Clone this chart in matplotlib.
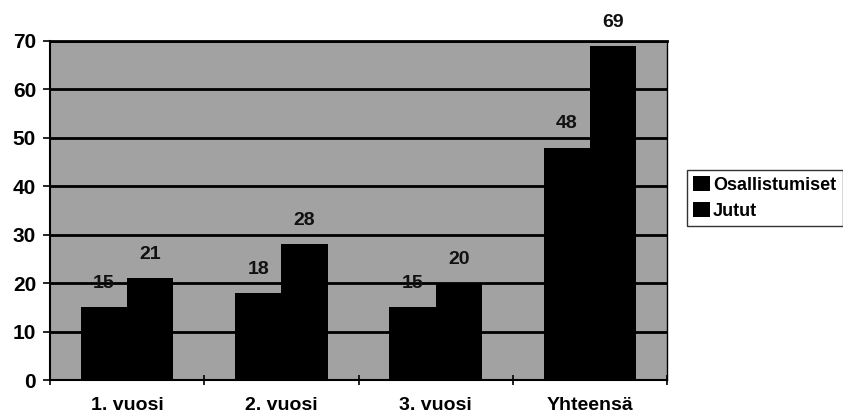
import matplotlib
matplotlib.use("Agg")
import matplotlib.pyplot as plt
import numpy as np

categories = ["1. vuosi", "2. vuosi", "3. vuosi", "Yhteensä"]
osallistumiset = [15, 18, 15, 48]
jutut = [21, 28, 20, 69]
yticks = [0, 10, 20, 30, 40, 50, 60, 70]

plt.rcParams['font.family'] = ['Liberation Sans', 'DejaVu Sans']
plt.rcParams['font.weight'] = 'bold'

fig = plt.figure(figsize=(8.43, 4.19), dpi=100)
ax = fig.add_axes([50/843, 1-380/419, (667-50)/843, (380-41)/419])
ax.set_facecolor('#a2a2a2')

x = np.arange(len(categories))
w = 0.3
b1 = ax.bar(x - w/2, osallistumiset, w, color='black', label='Osallistumiset', zorder=3)
b2 = ax.bar(x + w/2, jutut, w, color='black', label='Jutut', zorder=3)

for bars, vals in ((b1, osallistumiset), (b2, jutut)):
    for r, v in zip(bars, vals):
        ax.annotate(str(v), (r.get_x() + r.get_width()/2, v), xytext=(0, 11),
                    textcoords='offset points', ha='center', va='bottom',
                    fontsize=14, fontweight='bold', color='#111111', zorder=4,
                    annotation_clip=False)

ax.set_ylim(0, 70)
ax.set_xlim(-0.5, len(categories) - 0.5)
ax.set_yticks(yticks)
ax.set_yticklabels([str(t) for t in yticks], fontsize=15, fontweight='bold')
ax.yaxis.grid(True, color='black', linewidth=2, zorder=1)
ax.set_axisbelow(True)

ax.set_xticks(x)
ax.set_xticklabels(categories, fontsize=14, fontweight='bold')
ax.tick_params(axis='x', length=0, pad=12)
ax.set_xticks(np.arange(-0.5, len(categories) + 0.5, 1), minor=True)
ax.tick_params(axis='x', which='minor', length=7, width=1.2, direction='inout')
ax.tick_params(axis='y', length=5, width=1.2, direction='out', pad=5)

for s in ax.spines.values():
    s.set_color('black')
ax.spines['left'].set_linewidth(1.5)
ax.spines['bottom'].set_linewidth(1.5)
ax.spines['top'].set_linewidth(2)
ax.spines['right'].set_linewidth(1)

leg = ax.legend(loc='upper left', bbox_to_anchor=(687/843, 1-170/419),
                bbox_transform=fig.transFigure, frameon=True,
                fancybox=False, edgecolor='black', fontsize=13, handlelength=0.9,
                handleheight=0.9, handletextpad=0.2, borderpad=0.35, labelspacing=0.45,
                borderaxespad=0)
leg.get_frame().set_linewidth(1)

fig.savefig("out.png", dpi=100)
